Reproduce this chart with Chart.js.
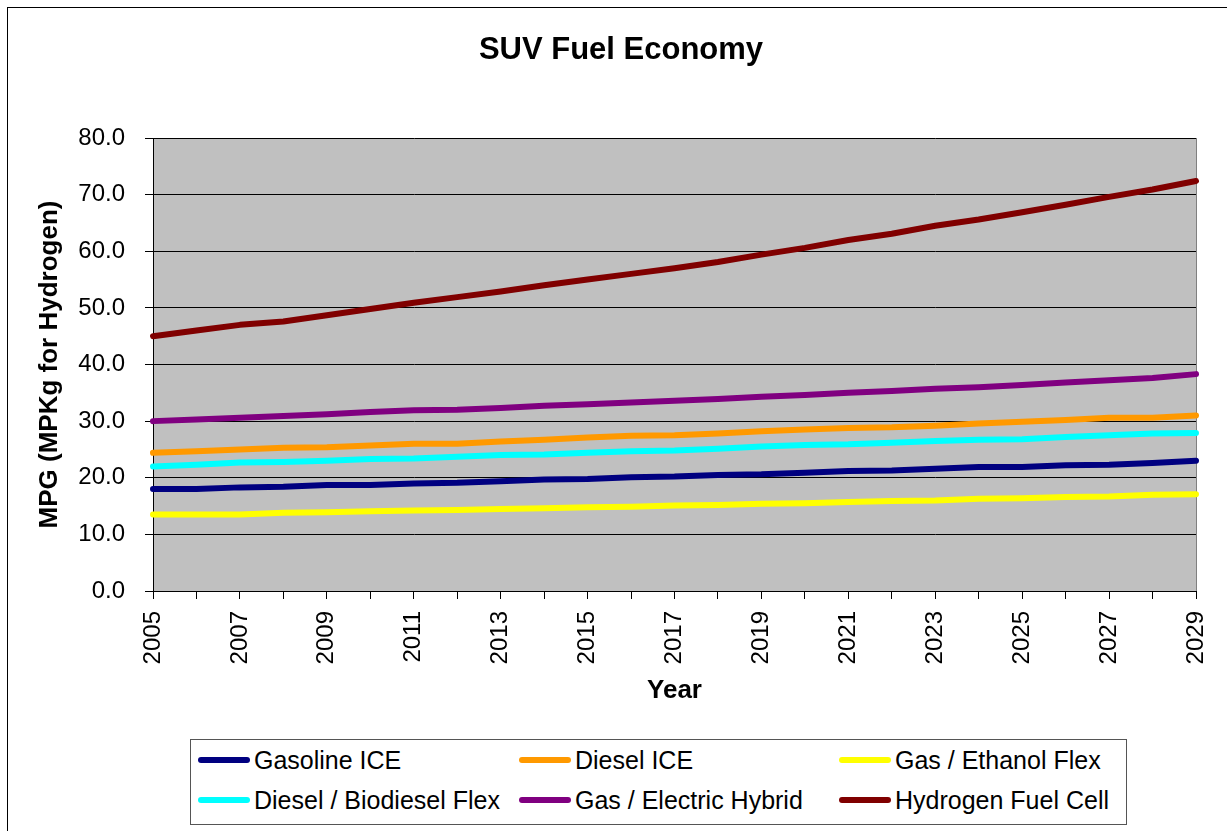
<!DOCTYPE html>
<html>
<head>
<meta charset="utf-8">
<script src="https://cdn.jsdelivr.net/npm/chart.js@4.4.1/dist/chart.umd.min.js"></script>
<style>
    html, body { margin: 0; padding: 0; background: #fff; }
    #wrap { position: relative; width: 1227px; height: 831px; overflow: hidden; font-family: "Liberation Sans", Arial, sans-serif; }
    #frame { position: absolute; left: 7px; top: 7px; width: 1240px; height: 840px; border-left: 1px solid #000; border-top: 1px solid #000; }
    #title { position: absolute; left: 0; width: 1242px; top: 31px; text-align: center; font-weight: bold; font-size: 31px; }
    #chart { position: absolute; left: 0; top: 0; }
    #legend { position: absolute; left: 190px; top: 739px; width: 937px; height: 86px; border: 1px solid #555; box-sizing: border-box; background: #fff; }
    .item { position: absolute; display: flex; align-items: center; font-size: 25px; height: 30px; }
    .swatch { width: 52px; height: 6px; border-radius: 3px; margin-right: 4px; }
</style>
</head>
<body>
<div id="wrap">
    <div id="frame"></div>
    <canvas id="chart" width="1227" height="831"></canvas>
    <div id="title">SUV Fuel Economy</div>
    <div id="legend"></div>
</div>
<script>
// 数据
const years = ['2005','2006','2007','2008','2009','2010','2011','2012','2013','2014','2015','2016','2017',
    '2018','2019','2020','2021','2022','2023','2024','2025','2026','2027','2028','2029'];

const gasolineIce = [18.0,18.0,18.3,18.4,18.7,18.7,19.0,19.1,19.4,19.7,19.8,20.1,20.2,20.5,20.6,20.9,21.2,21.3,21.6,21.9,21.9,22.2,22.3,22.6,23.0];
const dieselIce = [24.4,24.7,25.0,25.3,25.4,25.7,26.0,26.0,26.4,26.7,27.1,27.4,27.5,27.8,28.2,28.5,28.8,28.9,29.2,29.6,29.9,30.2,30.6,30.6,31.0];
const ethanolFlex = [13.5,13.5,13.5,13.8,13.9,14.1,14.2,14.3,14.5,14.6,14.8,14.9,15.1,15.2,15.4,15.5,15.7,15.9,16.0,16.3,16.4,16.6,16.7,17.0,17.1];
const biodieselFlex = [22.0,22.3,22.7,22.8,23.0,23.3,23.4,23.7,24.0,24.1,24.4,24.7,24.8,25.1,25.5,25.8,25.9,26.2,26.5,26.7,26.8,27.2,27.5,27.8,27.9];
const electricHybrid = [30.0,30.3,30.6,30.9,31.2,31.6,31.9,32.0,32.3,32.7,33.0,33.3,33.6,33.9,34.3,34.6,35.0,35.3,35.7,36.0,36.4,36.8,37.2,37.6,38.3];
const hydrogenCell = [45.0,46.0,47.0,47.6,48.7,49.8,50.9,51.9,52.9,54.0,55.0,56.0,57.0,58.1,59.4,60.6,62.0,63.1,64.5,65.6,66.9,68.2,69.6,70.9,72.4];

const yTicks = [0, 10, 20, 30, 40, 50, 60, 70, 80];

const series = [
    { label: 'Gasoline ICE', data: gasolineIce, color: '#000080' },
    { label: 'Diesel ICE', data: dieselIce, color: '#FF9900' },
    { label: 'Gas / Ethanol Flex', data: ethanolFlex, color: '#FFFF00' },
    { label: 'Diesel / Biodiesel Flex', data: biodieselFlex, color: '#00FFFF' },
    { label: 'Gas / Electric Hybrid', data: electricHybrid, color: '#800080' },
    { label: 'Hydrogen Fuel Cell', data: hydrogenCell, color: '#800000' }
];

const font = 'Liberation Sans, Arial, sans-serif';

// 绘图区灰色背景
const plotBg = {
    id: 'plotBg',
    beforeDraw(chart) {
        const { ctx, chartArea: a } = chart;
        ctx.save();
        ctx.fillStyle = '#C0C0C0';
        ctx.fillRect(a.left, a.top, a.right - a.left, a.bottom - a.top);
        ctx.strokeStyle = '#808080';
        ctx.lineWidth = 1;
        ctx.beginPath();
        ctx.moveTo(a.right + 0.5, a.top);
        ctx.lineTo(a.right + 0.5, a.bottom);
        ctx.stroke();
        ctx.restore();
    }
};

new Chart(document.getElementById('chart'), {
    type: 'line',
    data: {
        labels: years,
        datasets: series.map(s => ({
            label: s.label,
            data: s.data,
            borderColor: s.color,
            backgroundColor: s.color,
            borderWidth: 6,
            borderCapStyle: 'round',
            borderJoinStyle: 'round',
            pointRadius: 0,
            tension: 0,
            fill: false
        }))
    },
    options: {
        responsive: false,
        animation: false,
        layout: { padding: { left: 30, top: 138, right: 31, bottom: 120 } },
        plugins: {
            legend: { display: false },
            title: { display: false },
            tooltip: { enabled: false }
        },
        scales: {
            x: {
                type: 'category',
                offset: false,
                afterFit: (axis) => {
                    axis.height = 120;
                    axis.paddingLeft = 0;
                    axis.paddingRight = 0;
                },
                grid: { display: true, drawOnChartArea: false, drawTicks: true, tickLength: 8, color: '#000' },
                border: { display: true, color: '#000', width: 1 },
                ticks: {
                    autoSkip: false,
                    maxRotation: 90,
                    minRotation: 90,
                    color: '#000',
                    padding: 12,
                    font: { family: font, size: 24 },
                    callback: (v, i) => (i % 2 === 0 ? years[i] : '')
                },
                title: {
                    display: true,
                    text: 'Year',
                    color: '#000',
                    padding: { top: 4, bottom: 5 },
                    font: { family: font, size: 26, weight: 'bold' }
                }
            },
            y: {
                min: 0,
                max: 80,
                afterFit: (axis) => {
                    axis.width = 123;
                    axis.paddingTop = 0;
                    axis.paddingBottom = 0;
                },
                afterBuildTicks: (axis) => { axis.ticks = yTicks.map(v => ({ value: v })); },
                grid: { color: '#000', lineWidth: 1, tickLength: 8 },
                border: { display: true, color: '#000', width: 1 },
                ticks: {
                    color: '#000',
                    padding: 20,
                    font: { family: font, size: 24 },
                    callback: (v) => Number(v).toFixed(1)
                },
                title: {
                    display: true,
                    text: 'MPG (MPKg for Hydrogen)',
                    color: '#000',
                    padding: { top: 4, bottom: 4 },
                    font: { family: font, size: 26, weight: 'bold' }
                }
            }
        }
    },
    plugins: [plotBg]
});

// 图例
const legend = document.getElementById('legend');
const colX = [7, 328, 648];
const rowY = [5, 45];
series.forEach((s, i) => {
    const div = document.createElement('div');
    div.className = 'item';
    div.style.left = colX[i % 3] + 'px';
    div.style.top = rowY[Math.floor(i / 3)] + 'px';
    div.innerHTML = `<span class="swatch" style="background:${s.color}"></span><span>${s.label}</span>`;
    legend.appendChild(div);
});
</script>
</body>
</html>
